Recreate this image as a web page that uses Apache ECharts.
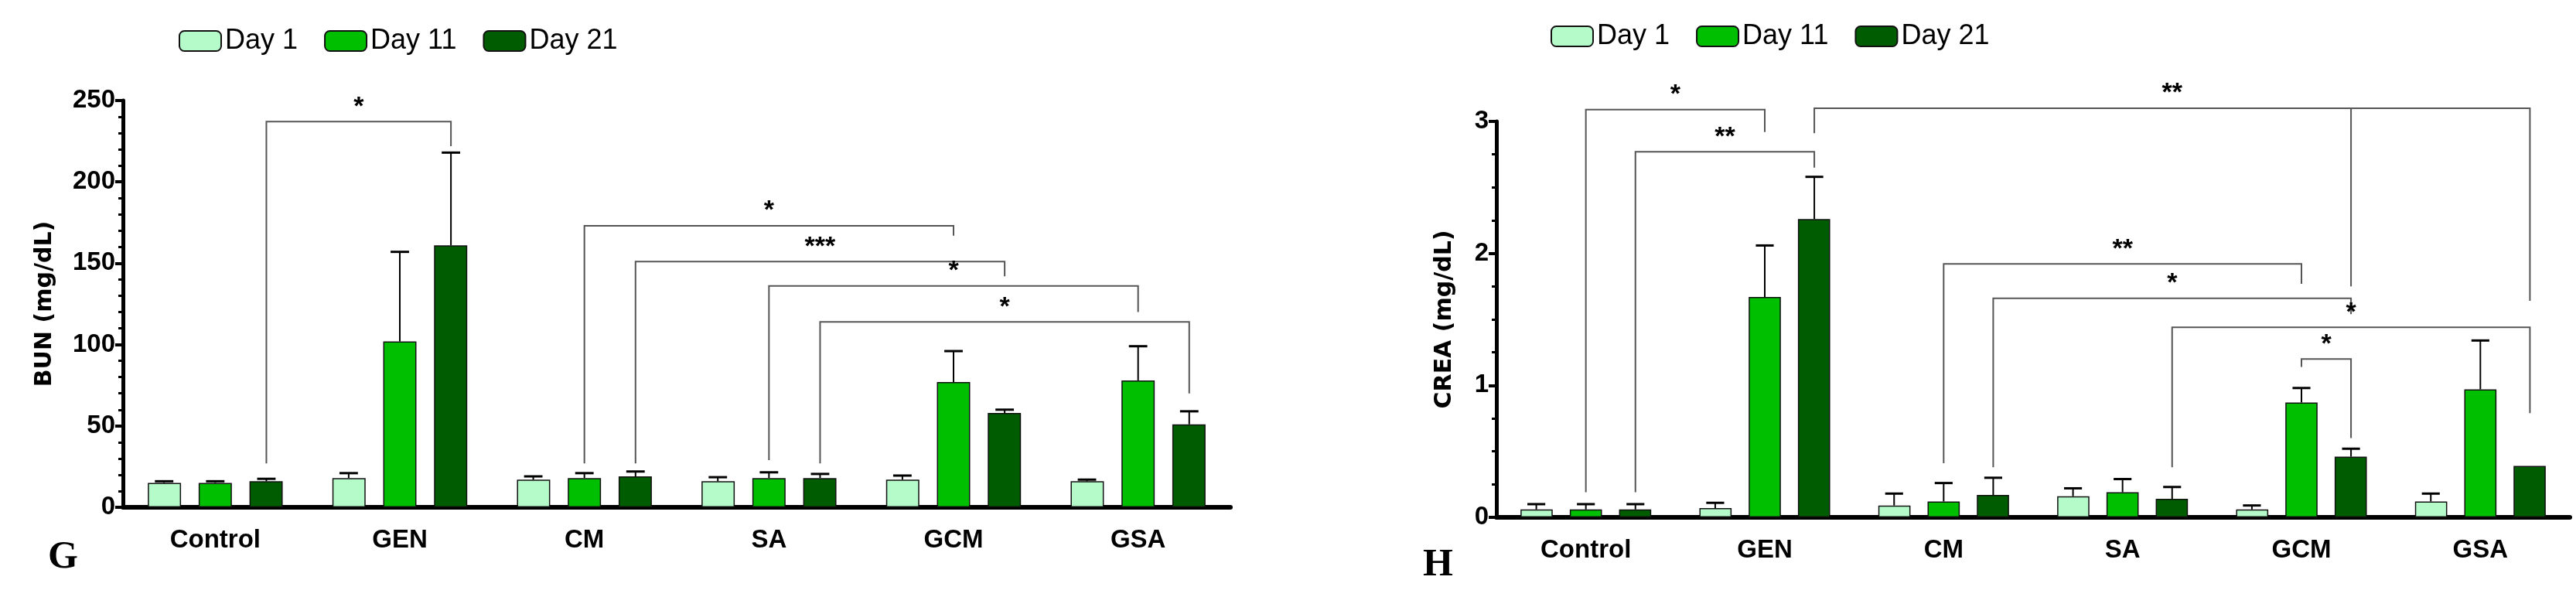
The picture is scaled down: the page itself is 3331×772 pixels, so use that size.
<!DOCTYPE html>
<html><head><meta charset="utf-8">
<script src="https://cdn.jsdelivr.net/npm/echarts@6/dist/echarts.min.js"></script>
<style>html,body{margin:0;padding:0;background:#fff}#c{width:3331px;height:772px}</style>
</head><body><div id="c"></div>
<script>
const categories = ['Control','GEN','CM','SA','GCM','GSA'];
const seriesNames = ['Day 1','Day 11','Day 21'];
const colors = ['#b5fbca','#00bf00','#005c00'];
const bunDay1 = [15,18,17,16,17,16];
const bunDay11 = [15,102,18,18,77,78];
const bunDay21 = [16,161,19,18,58,51];
const bunErr1 = [1,3,2,2.5,2.5,1];
const bunErr11 = [1,55,3,3.5,19,21];
const bunErr21 = [1.5,57,3,2.5,2,8];
const creaDay1 = [0.06,0.07,0.09,0.16,0.06,0.12];
const creaDay11 = [0.06,1.67,0.12,0.19,0.87,0.97];
const creaDay21 = [0.06,2.26,0.17,0.14,0.46,0.39];
const creaErr1 = [0.04,0.04,0.09,0.06,0.03,0.06];
const creaErr11 = [0.04,0.39,0.14,0.1,0.11,0.37];
const creaErr21 = [0.04,0.32,0.13,0.09,0.06,0];
// brackets: [cat1, bar1, yStart1, cat2, bar2, yEnd2, yTop, label, optional mid [cat,bar,yEnd]]
const bunBrackets = [
  [0,2,27, 1,2,222, 237,'*'],
  [2,1,27, 4,1,167, 173,'*'],
  [2,2,27, 4,2,142, 151,'***'],
  [3,1,29, 5,1,120, 136,'*'],
  [3,2,27, 5,2,70, 114,'*']
];
const creaBrackets = [
  [0,1,0.19, 1,1,2.92, 3.09,'*'],
  [0,2,0.19, 1,2,2.65, 2.77,'**'],
  [1,2,2.91, 5,2,1.64, 3.10,'**',[4,2,1.75]],
  [2,1,0.41, 4,1,1.77, 1.92,'**'],
  [2,2,0.38, 4,2,1.54, 1.66,'*'],
  [3,2,0.38, 5,2,0.79, 1.44,'*'],
  [4,1,1.14, 4,2,0.60, 1.20,'*']
];
const OFF = 0.277;
const font = '"Liberation Sans Narrow","Liberation Sans",Arial,sans-serif';
function xPix(api, cat, bar){ return api.coord([cat,0])[0] + (bar-1)*OFF*api.size([1,0])[0]; }
function errSeries(gi, bi, means, errs){
  return {type:'custom', xAxisIndex:gi, yAxisIndex:gi, z:1, silent:true,
    data: means.map((m,i)=>[i,m,errs[i]]),
    renderItem:(p,api)=>{
      const c=api.value(0), m=api.value(1), e=api.value(2);
      if(!e) return null;
      const x=xPix(api,c,bi), y0=api.coord([c,m])[1], y1=api.coord([c,m+e])[1];
      const w=api.size([1,0])[0]*0.05;
      return {type:'group',children:[
        {type:'line',shape:{x1:x,y1:y0,x2:x,y2:y1},style:{stroke:'#000',lineWidth:2}},
        {type:'line',shape:{x1:x-w,y1:y1,x2:x+w,y2:y1},style:{stroke:'#000',lineWidth:3}}]};
    }};
}
function bracketSeries(gi, br){
  return {type:'custom', xAxisIndex:gi, yAxisIndex:gi, z:5, silent:true,
    data: br.map((b,i)=>[b[0],b[6],i]),
    renderItem:(p,api)=>{
      const b=br[p.dataIndex];
      const x1=xPix(api,b[0],b[1]), x2=xPix(api,b[3],b[4]);
      const yt=api.coord([0,b[6]])[1], ya=api.coord([0,b[2]])[1], yb=api.coord([0,b[5]])[1];
      const ch=[{type:'polyline',shape:{points:[[x1,ya],[x1,yt],[x2,yt],[x2,yb]]},style:{stroke:'#555',lineWidth:2,fill:null}},
        {type:'text',x:(x1+x2)/2,y:yt-2,style:{text:b[7],font:'bold 34px '+font,fill:'#000',align:'center',verticalAlign:'bottom'}}];
      if(b[8]){const xm=xPix(api,b[8][0],b[8][1]);ch.push({type:'line',shape:{x1:xm,y1:yt,x2:xm,y2:api.coord([0,b[8][2]])[1]},style:{stroke:'#555',lineWidth:2}});}
      return {type:'group',children:ch};
    }};
}
function bars(gi, arrs){
  return arrs.map((d,i)=>({type:'bar',name:seriesNames[i],xAxisIndex:gi,yAxisIndex:gi,data:d,
    barWidth:'18%',barGap:'53%',itemStyle:{color:colors[i],borderColor:'#111',borderWidth:1.5}}));
}
const xAx = gi=>({type:'category',gridIndex:gi,data:categories,
  axisLine:{lineStyle:{color:'#000',width:6}},axisTick:{alignWithLabel:true,length:14,lineStyle:{width:4,color:'#000'}},
  axisLabel:{fontFamily:font,fontWeight:'bold',fontSize:33,color:'#000',margin:26}});
const yAx = (gi,max,interval,name,minorSplit,gap)=>({type:'value',gridIndex:gi,min:0,max:max,interval:interval,
  name:name,nameLocation:'middle',nameGap:gap,nameTextStyle:{fontFamily:'"DejaVu Sans",sans-serif',fontWeight:'bold',fontSize:30,color:'#000'},
  axisLine:{show:true,lineStyle:{color:'#000',width:5}},axisTick:{show:true,length:10,lineStyle:{width:4,color:'#000'}},
  minorTick:{show:true,splitNumber:minorSplit,length:6,lineStyle:{width:3,color:'#000'}},
  splitLine:{show:false},axisLabel:{fontFamily:font,fontWeight:'bold',fontSize:33,color:'#000',margin:10}});
const chart = echarts.init(document.getElementById('c'));
const legText = {fontFamily:'"Liberation Sans",Arial,sans-serif',fontSize:36,color:'#000'};
chart.setOption({
  animation:false,
  legend:[
    {left:226,top:30,itemWidth:54,itemHeight:26,itemGap:34,data:seriesNames,textStyle:legText},
    {left:2000,top:24,itemWidth:54,itemHeight:26,itemGap:34,data:seriesNames,textStyle:legText}
  ],
  grid:[{left:159,right:1740,top:130,bottom:116},{left:1935,right:8,top:157,bottom:103}],
  xAxis:[xAx(0),xAx(1)],
  yAxis:[yAx(0,250,50,'BUN (mg/dL)',5,86),yAx(1,3,1,'CREA (mg/dL)',4,52)],
  graphic:[
    {type:'text',left:62,top:696,style:{text:'G',font:'bold 50px "Liberation Serif",serif',fill:'#000'}},
    {type:'text',left:1840,top:706,style:{text:'H',font:'bold 50px "Liberation Serif",serif',fill:'#000'}}
  ],
  series:[
    ...bars(0,[bunDay1,bunDay11,bunDay21]),
    ...bars(1,[creaDay1,creaDay11,creaDay21]),
    errSeries(0,0,bunDay1,bunErr1),errSeries(0,1,bunDay11,bunErr11),errSeries(0,2,bunDay21,bunErr21),
    errSeries(1,0,creaDay1,creaErr1),errSeries(1,1,creaDay11,creaErr11),errSeries(1,2,creaDay21,creaErr21),
    bracketSeries(0,bunBrackets),bracketSeries(1,creaBrackets)
  ]
});
</script></body></html>
